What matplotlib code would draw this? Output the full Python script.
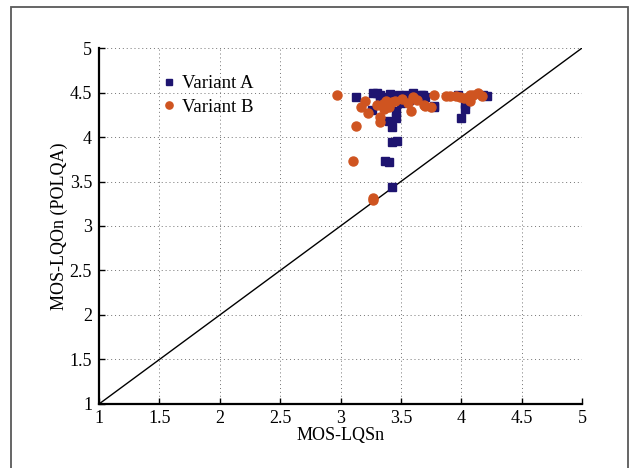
import numpy as np
import matplotlib
matplotlib.use("Agg")
import matplotlib.pyplot as plt
from matplotlib.patches import Rectangle

plt.rcParams['font.family'] = ['Liberation Serif', 'DejaVu Serif']
plt.rcParams['font.size'] = 13

# Variant A (blue squares)
a_x = [3.13, 3.27, 3.33, 3.37, 3.48, 3.53, 3.60, 3.67, 3.70, 3.77,
       3.46, 3.46, 3.40, 3.43, 3.43, 3.47, 3.37, 3.40, 3.43, 3.26,
       3.33, 3.68, 3.77, 3.97, 4.03, 4.03, 4.00, 4.18, 3.30, 3.41,
       3.50, 3.57, 4.21]
a_y = [4.45, 4.50, 4.47, 4.45, 4.47, 4.47, 4.49, 4.47, 4.45, 4.34,
       4.29, 4.21, 4.18, 4.11, 3.94, 3.96, 3.73, 3.72, 3.44, 4.30,
       4.40, 4.47, 4.35, 4.47, 4.32, 4.37, 4.21, 4.47, 4.49, 4.48,
       4.38, 4.42, 4.46]

# Variant B (orange circles)
b_x = [2.97, 3.13, 3.10, 3.27, 3.27, 3.20, 3.17, 3.23, 3.33, 3.33,
       3.35, 3.38, 3.40, 3.43, 3.36, 3.51, 3.56, 3.58, 3.60, 3.77,
       3.69, 3.75, 3.70, 3.87, 3.91, 3.96, 3.99, 4.07, 4.10, 4.14,
       4.17, 4.07, 3.30, 3.45, 3.63, 4.02]
b_y = [4.47, 4.12, 3.73, 3.29, 3.32, 4.41, 4.34, 4.27, 4.17, 4.23,
       4.37, 4.41, 4.34, 4.39, 4.31, 4.43, 4.38, 4.29, 4.45, 4.47,
       4.36, 4.34, 4.35, 4.46, 4.46, 4.46, 4.45, 4.41, 4.47, 4.49,
       4.46, 4.47, 4.36, 4.40, 4.42, 4.44]

ticks = [1, 1.5, 2, 2.5, 3, 3.5, 4, 4.5, 5]
tick_labels = ['1', '1.5', '2', '2.5', '3', '3.5', '4', '4.5', '5']

fig = plt.figure(figsize=(6.35, 4.68), dpi=100)
fig.patches.append(Rectangle((0.0173, -0.05), 0.9717, 1.035, transform=fig.transFigure,
                             fill=False, edgecolor='0.35', linewidth=1.3))
ax = fig.add_axes([0.156, 0.1368, 0.7606, 0.7606])

ax.plot([1, 5], [1, 5], color='black', linewidth=1.0, zorder=2)
ax.plot(a_x, a_y, 's', color='#1e1470', markersize=5.5, label='Variant A', zorder=3)
ax.plot(b_x, b_y, 'o', color='#cf5420', markersize=6.5, label='Variant B', zorder=4)

ax.set_xlim(1, 5)
ax.set_ylim(1, 5)
ax.set_xticks(ticks)
ax.set_xticklabels(tick_labels)
ax.set_yticks(ticks)
ax.set_yticklabels(tick_labels)
ax.tick_params(direction='in', length=4, width=1)
ax.tick_params(axis='x', pad=4)
ax.tick_params(axis='y', pad=5)
ax.grid(True, color='0.45', linestyle=(0, (1, 3)), linewidth=0.7)
ax.spines['top'].set_visible(False)
ax.spines['right'].set_visible(False)
ax.spines['left'].set_linewidth(1.6)
ax.spines['bottom'].set_linewidth(1.6)

ax.set_xlabel('MOS-LQSn', labelpad=0)
ax.set_ylabel('MOS-LQOn (POLQA)', labelpad=1)

ax.legend(loc='upper left', bbox_to_anchor=(0.105, 0.945), frameon=False, markerscale=0.8,
          fontsize=13.5, handletextpad=0.1, handlelength=1.2, borderaxespad=0,
          labelspacing=0.35)

fig.savefig('out.png', dpi=100)
